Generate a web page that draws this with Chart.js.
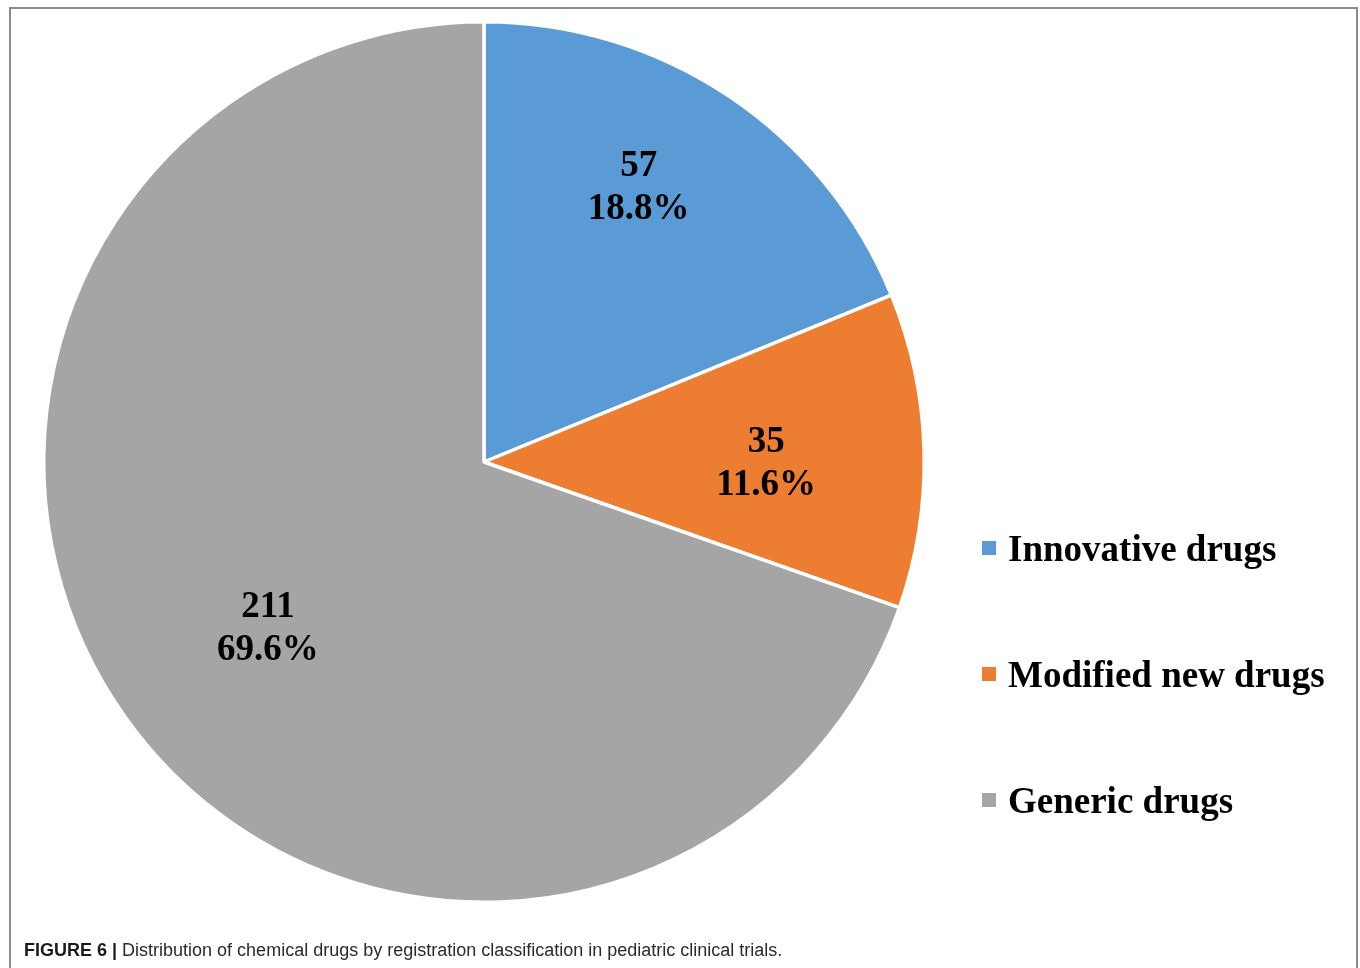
<!DOCTYPE html>
<html>
<head>
<meta charset="utf-8">
<script src="https://cdn.jsdelivr.net/npm/chart.js@4.4.1/dist/chart.umd.min.js"></script>
<style>
  html, body { margin: 0; padding: 0; background: #ffffff; }
  body { width: 1360px; height: 968px; position: relative; overflow: hidden; }
  #frame { position: absolute; left: 9px; top: 7px; width: 1349px; height: 1000px;
           border: 2px solid #8c8c8c; border-bottom: none; box-sizing: border-box; }
  #wrap { position: absolute; left: 0; top: 0; width: 1360px; height: 968px; }
  #caption { position: absolute; left: 24px; top: 940px; white-space: nowrap;
             font-family: "Liberation Sans", Arial, sans-serif; font-size: 18px; color: #2a2a2a;
             transform-origin: 0 0; }
  #caption b { font-weight: bold; color: #1a1a1a; }
</style>
</head>
<body>
<div id="frame"></div>
<div id="wrap"><canvas id="c" width="1360" height="968"></canvas></div>
<div id="caption"><b>FIGURE 6 |</b> Distribution of chemical drugs by registration classification in pediatric clinical trials.</div>
<script>
const categories = ["Innovative drugs", "Modified new drugs", "Generic drugs"];
const counts = [57, 35, 211];
const percentLabels = ["18.8%", "11.6%", "69.6%"];
const sliceColors = ["#5b9bd5", "#ed7d31", "#a5a5a5"];

// label placement tweaks (radial fraction, angle shift in degrees)
const labelRadius = [0.719, 0.641, 0.617];
const labelShift = [-4.6, 1.4, -1.95];

const sliceLabels = {
  id: 'sliceLabels',
  afterDatasetsDraw(chart) {
    const ctx = chart.ctx;
    const meta = chart.getDatasetMeta(0);
    ctx.save();
    ctx.font = 'bold 37px "Liberation Serif", "Times New Roman", serif';
    ctx.fillStyle = '#000';
    ctx.textAlign = 'center';
    ctx.textBaseline = 'middle';
    meta.data.forEach((arc, i) => {
      const p = arc.getProps(['x', 'y', 'startAngle', 'endAngle', 'outerRadius'], true);
      const a = (p.startAngle + p.endAngle) / 2 + labelShift[i] * Math.PI / 180;
      const r = p.outerRadius * labelRadius[i];
      const cx = p.x + r * Math.cos(a);
      const cy = p.y + r * Math.sin(a) + 2;
      ctx.fillText(String(counts[i]), cx, cy - 21);
      ctx.fillText(percentLabels[i], cx, cy + 22);
    });
    ctx.restore();
  }
};

const sideLegend = {
  id: 'sideLegend',
  afterDraw(chart) {
    const ctx = chart.ctx;
    const area = chart.chartArea;
    ctx.save();
    ctx.font = 'bold 37px "Liberation Serif", "Times New Roman", serif';
    ctx.textAlign = 'left';
    ctx.textBaseline = 'middle';
    categories.forEach((name, i) => {
      const y = area.top + 528 + i * 126;
      const x = area.right + 56;
      ctx.fillStyle = sliceColors[i];
      ctx.fillRect(x, y - 7, 14, 14);
      ctx.fillStyle = '#000';
      ctx.fillText(name, x + 26, y + 3);
    });
    ctx.restore();
  }
};

new Chart(document.getElementById('c'), {
  type: 'pie',
  data: {
    labels: categories,
    datasets: [{
      data: counts,
      backgroundColor: sliceColors,
      borderColor: '#ffffff',
      borderWidth: 3.5
    }]
  },
  options: {
    responsive: false,
    animation: false,
    layout: { padding: { left: 42, top: 20, right: 434, bottom: 64 } },
    plugins: {
      legend: { display: false },
      tooltip: { enabled: false }
    }
  },
  plugins: [sliceLabels, sideLegend]
});

const cap = document.getElementById('caption');
const w = cap.offsetWidth;
cap.style.transform = 'scaleX(' + (758 / w) + ')';
</script>
</body>
</html>
